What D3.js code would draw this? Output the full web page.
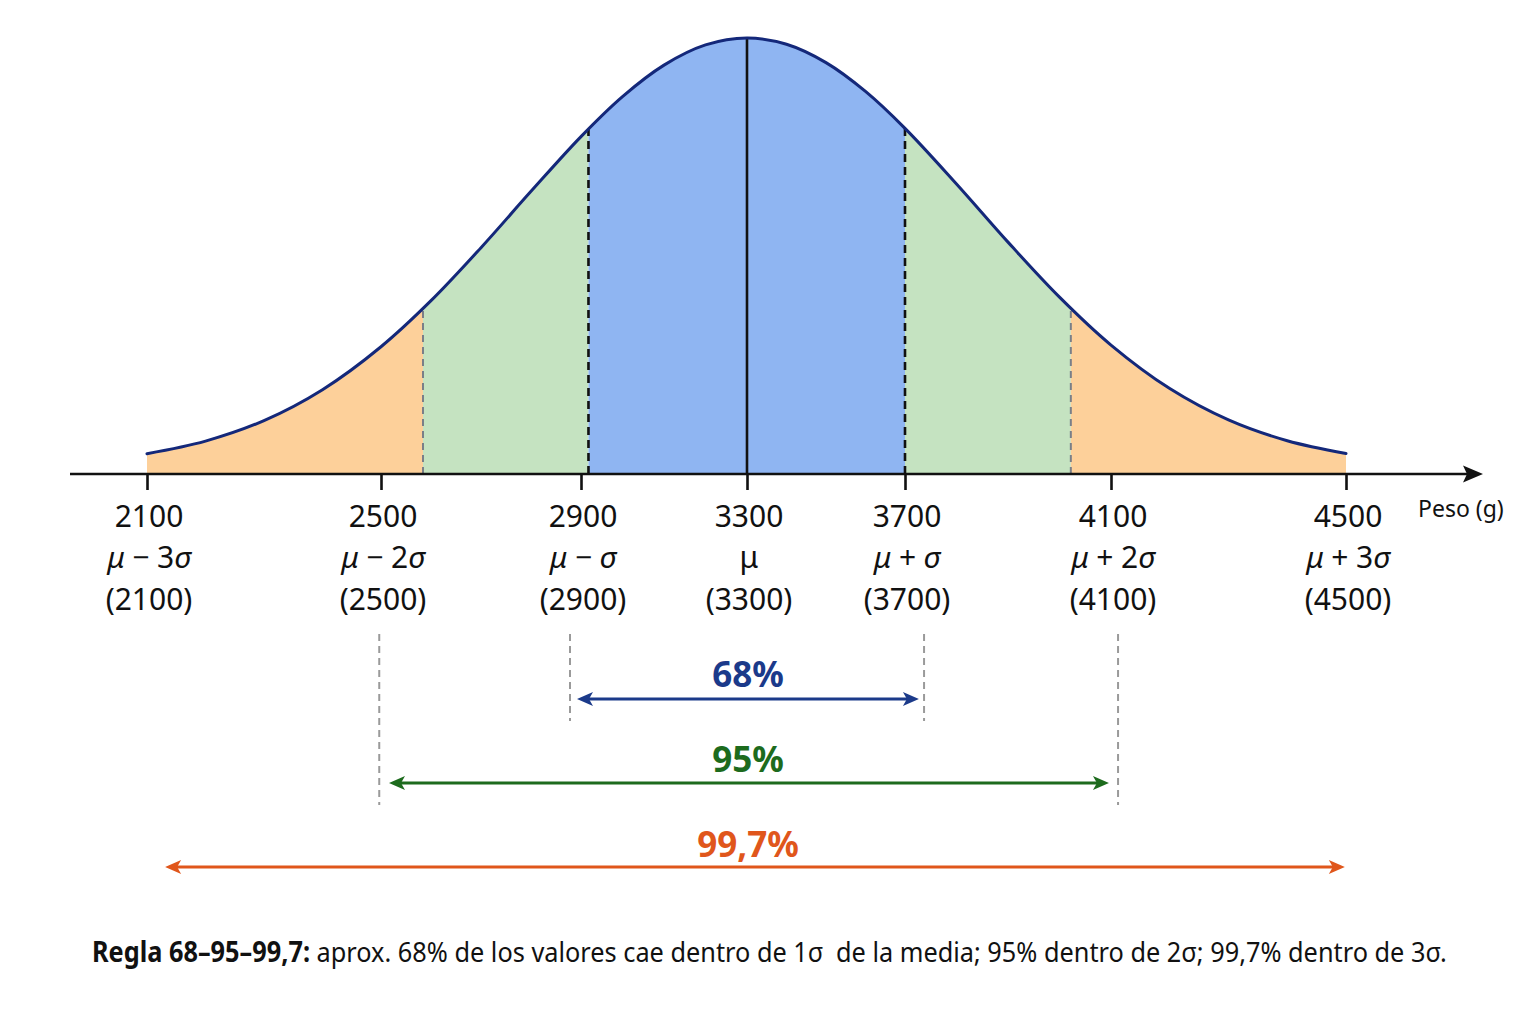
<!DOCTYPE html>
<html>
<head>
<meta charset="utf-8">
<script src="https://cdn.jsdelivr.net/npm/d3@7"></script>
<style>
  body { margin: 0; background: #ffffff; }
  svg { display: block; }
  text { font-family: "Noto Sans", "Open Sans", sans-serif; }
</style>
</head>
<body>
<svg id="chart" width="1536" height="1024"></svg>
<script>
// ---------------- DATA ----------------
const tickValues   = [2100, 2500, 2900, 3300, 3700, 4100, 4500];
const sigmaLabels  = ["μ−3σ", "μ−2σ", "μ−σ", "μ", "μ+σ", "μ+2σ", "μ+3σ"];
const axisTitle    = "Peso (g)";

// density curve, relative to the peak (1 = peak)
const curveGrams   = [2100, 2200, 2300, 2400, 2500, 2600, 2700, 2800, 2900, 3000, 3100, 3200, 3300,
                      3400, 3500, 3600, 3700, 3800, 3900, 4000, 4100, 4200, 4300, 4400, 4500];
const curveDensity = [0.0466, 0.0755, 0.1225, 0.1934, 0.2919, 0.3975, 0.5191, 0.6483, 0.7739, 0.8656, 0.9378, 0.9841, 1.0,
                      0.9856, 0.9435, 0.8774, 0.7927, 0.6651, 0.5318, 0.4056, 0.2957, 0.1959, 0.1240, 0.0763, 0.0470];

// shading boundaries (g)
const outerEdges   = [2584, 4022];
const innerEdges   = [2918, 3700];
const meanValue    = 3300;

// interval arrows
const intervalLabels = ["68%", "95%", "99,7%"];
const arrowFrom      = [2892, 2516, 2131];
const arrowTo        = [3727, 4096, 4498];
const guideFrom      = [2878, 2497, null];
const guideTo        = [3737, 4112, null];

const captionBold  = "Regla 68–95–99,7:";
const captionText  = " aprox. 68% de los valores cae dentro de 1σ\u2002de la media; 95% dentro de 2σ; 99,7% dentro de 3σ.";

// ---------------- LAYOUT ----------------
const svg = d3.select("#chart");
const baseY = 474, peakY = 38;
const axisLeft = 70, axisTip = 1483;

const x = d3.scaleLinear()
  .domain(tickValues)
  .range([147, 381, 581, 747, 905, 1111, 1346]);
const y = d3.scaleLinear().domain([0, 1]).range([baseY, peakY]);

const pts = curveGrams.map((g, i) => [g, curveDensity[i]]);

const colors = {
  orange: "#fdd09a", green: "#c5e3c1", blue: "#8fb5f2",
  curve: "#14287a", navy: "#1b3a8a", dgreen: "#1d6b1d", red: "#e0561b"
};

const defs = svg.append("defs");

const area = d3.area()
  .x(d => x(d[0])).y0(baseY).y1(d => y(d[1]))
  .curve(d3.curveCatmullRom.alpha(0.5));
const line = d3.line()
  .x(d => x(d[0])).y(d => y(d[1]))
  .curve(d3.curveCatmullRom.alpha(0.5));

// clip under the curve
defs.append("clipPath").attr("id", "under")
  .append("path").attr("d", area(pts));

// bands
const edges = [curveGrams[0], outerEdges[0], innerEdges[0], innerEdges[1], outerEdges[1], curveGrams[curveGrams.length - 1]];
const bandColors = [colors.orange, colors.green, colors.blue, colors.green, colors.orange];
const gBands = svg.append("g").attr("clip-path", "url(#under)");
bandColors.forEach((c, i) => {
  gBands.append("rect")
    .attr("x", x(edges[i]))
    .attr("width", x(edges[i + 1]) - x(edges[i]))
    .attr("y", 0).attr("height", baseY + 1)
    .attr("fill", c);
});

// vertical lines under the curve
const gLines = svg.append("g").attr("clip-path", "url(#under)");
outerEdges.forEach(v => {
  gLines.append("line")
    .attr("x1", x(v)).attr("x2", x(v)).attr("y1", baseY).attr("y2", 0)
    .attr("stroke", "#7a7f88").attr("stroke-width", 2).attr("stroke-dasharray", "7,5");
});
innerEdges.forEach(v => {
  gLines.append("line")
    .attr("x1", x(v)).attr("x2", x(v)).attr("y1", baseY).attr("y2", 0)
    .attr("stroke", "#111").attr("stroke-width", 2.6).attr("stroke-dasharray", "8,5");
});
gLines.append("line")
  .attr("x1", x(meanValue)).attr("x2", x(meanValue)).attr("y1", baseY).attr("y2", 0)
  .attr("stroke", "#111").attr("stroke-width", 2.6);

// curve
svg.append("path").attr("d", line(pts))
  .attr("fill", "none").attr("stroke", colors.curve).attr("stroke-width", 3)
  .attr("stroke-linecap", "round");

// axis
const axis = d3.axisBottom(x).tickValues(tickValues).tickSize(16).tickFormat("");
const gAxis = svg.append("g").attr("transform", `translate(0,${baseY})`).call(axis);
gAxis.select(".domain").remove();
gAxis.selectAll(".tick line").attr("stroke", "#111").attr("stroke-width", 2.6);

svg.append("line")
  .attr("x1", axisLeft).attr("x2", axisTip - 10).attr("y1", baseY).attr("y2", baseY)
  .attr("stroke", "#111").attr("stroke-width", 2.6);
svg.append("path")
  .attr("d", `M${axisTip},${baseY} L${axisTip - 20},${baseY - 8.5} L${axisTip - 16},${baseY} L${axisTip - 20},${baseY + 8.5} Z`)
  .attr("fill", "#111");

svg.append("text")
  .attr("x", 1418).attr("y", 517)
  .attr("font-size", 23).attr("fill", "#111")
  .text(axisTitle);

// tick labels (3 rows)
const gLab = svg.append("g").attr("fill", "#111").attr("font-size", 30).attr("text-anchor", "middle");
tickValues.forEach((v, i) => {
  const cx = x(v) + 2;
  gLab.append("text").attr("x", cx).attr("y", 527).text(String(v));
  const t = gLab.append("text").attr("x", cx).attr("y", 568);
  const lab = sigmaLabels[i];
  if (lab === "μ") {
    t.text("μ");
  } else {
    const op = lab.charAt(1);
    const coef = lab.slice(2, lab.length - 1);
    t.append("tspan").attr("font-style", "italic").text("μ");
    t.append("tspan").text("\u2005" + op + "\u2005" + coef);
    t.append("tspan").attr("font-style", "italic").text("σ");
  }
  gLab.append("text").attr("x", cx).attr("y", 610).text("(" + v + ")");
});

// interval arrows
const arrowColors = [colors.navy, colors.dgreen, colors.red];
const arrowY = [699, 783, 867];
const labelY = [687, 772, 857];
const guideBottom = [721, 805, null];
const guideTop = 634;

arrowColors.forEach((c, i) => {
  const m = defs.append("marker")
    .attr("id", "ah" + i)
    .attr("viewBox", "-17 -8 18 16")
    .attr("refX", -8).attr("refY", 0)
    .attr("markerWidth", 18).attr("markerHeight", 16)
    .attr("markerUnits", "userSpaceOnUse")
    .attr("orient", "auto-start-reverse");
  m.append("path").attr("d", "M0,0 L-16,-7 L-12,0 L-16,7 Z").attr("fill", c);
});

const gInt = svg.append("g");
intervalLabels.forEach((lab, i) => {
  if (guideFrom[i] !== null) {
    [guideFrom[i], guideTo[i]].forEach(g => {
      gInt.append("line")
        .attr("x1", x(g)).attr("x2", x(g)).attr("y1", guideTop).attr("y2", guideBottom[i])
        .attr("stroke", "#9a9a9a").attr("stroke-width", 2).attr("stroke-dasharray", "7,5");
    });
  }
  gInt.append("line")
    .attr("x1", x(arrowFrom[i]) + 8).attr("x2", x(arrowTo[i]) - 8)
    .attr("y1", arrowY[i]).attr("y2", arrowY[i])
    .attr("stroke", arrowColors[i]).attr("stroke-width", 3)
    .attr("marker-start", `url(#ah${i})`).attr("marker-end", `url(#ah${i})`);
  gInt.append("text")
    .attr("x", x(meanValue) + 1).attr("y", labelY[i])
    .attr("text-anchor", "middle").attr("font-size", 35).attr("font-weight", 700)
    .attr("fill", arrowColors[i]).text(lab);
});

// caption (slightly condensed to match the reference's narrower face)
const capX = 92, capY = 962, targetW = 1355;
const cap = svg.append("text").attr("font-size", 28).attr("fill", "#111");
cap.append("tspan").attr("font-weight", 700).text(captionBold);
cap.append("tspan").text(captionText);
const w = cap.node().getComputedTextLength();
cap.attr("transform", `translate(${capX},${capY}) scale(${targetW / w},1)`);
</script>
</body>
</html>
